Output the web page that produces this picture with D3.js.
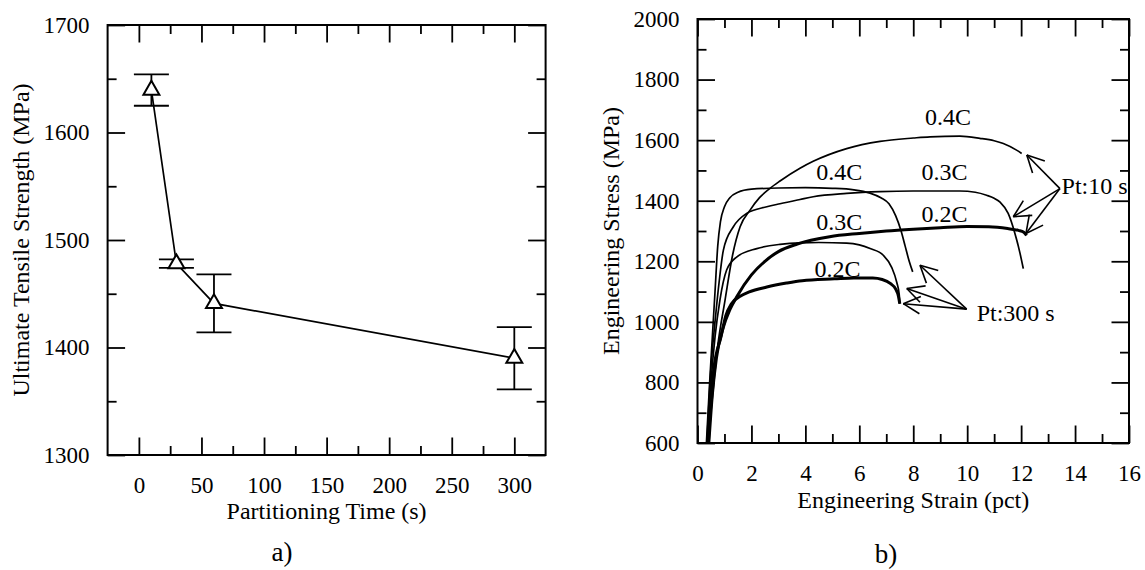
<!DOCTYPE html>
<html><head><meta charset="utf-8">
<script src="https://cdn.jsdelivr.net/npm/d3@7/dist/d3.min.js"></script>
<style>
body{margin:0;background:#fff}
svg{display:block}
text{font-family:"Liberation Serif","Times New Roman",serif;fill:#000}
</style>
</head><body>
<svg id="chart" width="1145" height="570"></svg>
<script>
// ---------- Panel a) data ----------
const partTime = [10, 30, 60, 300];
const utsMean  = [1639.5, 1478, 1441, 1390];
const utsErr   = [14.6, 4, 27, 29];
const xTicksA  = [0, 50, 100, 150, 200, 250, 300];
const xMinorA  = [25, 75, 125, 175, 225, 275];
const yTicksA  = [1300, 1400, 1500, 1600, 1700];
const yMinorA  = [1350, 1450, 1550, 1650];

// ---------- Panel b) data (strain pct, stress MPa) ----------
const c04_10s = [[0.38,600],[0.55,750],[0.75,920],[1.02,1071],[1.3,1220],[1.58,1314],[1.95,1369],[2.3,1410],[2.69,1441],[3.06,1465],[3.8,1507],[4.29,1530],[5.53,1572],[6.77,1596],[8.0,1607],[8.62,1611],[9.73,1613],[10.47,1606],[11.0,1598],[11.34,1589],[11.83,1567],[12.02,1556]];
const c03_10s = [[0.35,600],[0.5,850],[0.65,1000],[0.8,1130],[0.96,1237],[1.33,1314],[1.82,1358],[2.57,1380],[3.06,1390],[3.8,1404],[4.29,1413],[5.53,1424],[6.77,1430],[8.0,1432],[9.73,1432],[10.3,1428],[10.72,1418],[11.0,1408],[11.22,1395],[11.52,1358],[11.77,1292],[11.96,1226],[12.08,1176]];
const c02_10s = [[0.42,600],[0.55,760],[0.7,880],[0.96,983],[1.2,1040],[1.45,1082],[2.0,1155],[2.5,1200],[3.0,1232],[3.7,1257],[4.9,1281],[6.0,1292],[7.0,1300],[8.0,1306],[9.0,1311],[10.0,1315],[10.8,1314],[11.5,1308],[11.9,1302],[12.1,1296],[12.2,1285]];
const c04_300s = [[0.33,600],[0.45,800],[0.55,950],[0.65,1100],[0.75,1250],[0.85,1330],[1.0,1380],[1.2,1410],[1.5,1428],[2.0,1438],[3.0,1442],[4.0,1443],[5.0,1441],[5.8,1436],[6.4,1425],[6.8,1410],[7.1,1390],[7.35,1350],[7.55,1300],[7.7,1250],[7.85,1200],[7.98,1165]];
const c03_300s = [[0.36,600],[0.5,800],[0.65,950],[0.83,1071],[1.08,1171],[1.45,1214],[2.2,1242],[3.06,1256],[3.8,1261],[4.5,1262],[5.53,1260],[6.0,1254],[6.4,1242],[6.89,1220],[7.2,1180],[7.39,1130],[7.48,1090],[7.5,1060]];
const c02_300s = [[0.4,600],[0.47,708],[0.6,840],[0.87,950],[1.05,1020],[1.26,1060],[1.6,1085],[1.92,1099],[2.57,1115],[3.3,1128],[3.88,1136],[5.08,1142],[5.8,1145],[6.5,1145],[6.85,1140],[7.16,1126],[7.35,1108],[7.45,1085],[7.5,1060]];
const xTicksB = [0, 2, 4, 6, 8, 10, 12, 14, 16];
const xMinorB = [1, 3, 5, 7, 9, 11, 13, 15];
const yTicksB = [600, 800, 1000, 1200, 1400, 1600, 1800, 2000];
const yMinorB = [700, 900, 1100, 1300, 1500, 1700, 1900];

// curve labels: [text, strain (center), stress (baseline)]
const curveLabels = [["0.4C",9.29,1650],["0.4C",5.26,1468],["0.3C",9.16,1468],["0.3C",5.26,1302],["0.2C",9.16,1330],["0.2C",5.19,1148]];
// annotations: text, text left strain, baseline stress, apex, tips
const noteText   = ["Pt:10 s", "Pt:300 s"];
const noteAt     = [[13.5,1421], [10.35,1002]];
const noteApex   = [[13.44,1440], [9.98,1042]];
const noteTips   = [[[12.21,1551],[11.71,1347],[12.18,1292]], [[8.25,1187],[7.76,1110],[7.63,1060]]];

const svg = d3.select("#chart");
const TICK_MAJ = 17.5, TICK_MIN = 9;

function frame(g, x, y, xt, xm, yt, ym){
  const w = x.range()[1]-x.range()[0], h = y.range()[0]-y.range()[1];
  const noDomain = s=>s.select(".domain").remove();
  g.append("g").attr("transform",`translate(0,${y.range()[0]})`)
    .call(d3.axisBottom(x).tickValues(xt).tickSize(-TICK_MAJ).tickPadding(22).tickFormat(d3.format("d"))).call(noDomain);
  g.append("g").attr("transform",`translate(0,${y.range()[0]})`)
    .call(d3.axisBottom(x).tickValues(xm).tickSize(-TICK_MIN).tickFormat("")).call(noDomain);
  g.append("g").attr("transform",`translate(0,${y.range()[1]})`)
    .call(d3.axisTop(x).tickValues(xt).tickSize(-TICK_MAJ).tickFormat("")).call(noDomain);
  g.append("g").attr("transform",`translate(0,${y.range()[1]})`)
    .call(d3.axisTop(x).tickValues(xm).tickSize(-TICK_MIN).tickFormat("")).call(noDomain);
  g.append("g").attr("transform",`translate(${x.range()[0]},0)`)
    .call(d3.axisLeft(y).tickValues(yt).tickSize(-TICK_MAJ).tickPadding(18).tickFormat(d3.format("d"))).call(noDomain);
  g.append("g").attr("transform",`translate(${x.range()[0]},0)`)
    .call(d3.axisLeft(y).tickValues(ym).tickSize(-TICK_MIN).tickFormat("")).call(noDomain);
  g.append("g").attr("transform",`translate(${x.range()[1]},0)`)
    .call(d3.axisRight(y).tickValues(yt).tickSize(-TICK_MAJ).tickFormat("")).call(noDomain);
  g.append("g").attr("transform",`translate(${x.range()[1]},0)`)
    .call(d3.axisRight(y).tickValues(ym).tickSize(-TICK_MIN).tickFormat("")).call(noDomain);
  g.selectAll(".tick line").attr("stroke","#000").attr("stroke-width",1.8);
  g.selectAll(".tick text").filter(function(){return this.textContent==="";}).remove();
  g.selectAll(".tick text").attr("font-size",23).attr("fill","#000");
  g.append("rect").attr("x",x.range()[0]).attr("y",y.range()[1]).attr("width",w).attr("height",h)
    .attr("fill","none").attr("stroke","#000").attr("stroke-width",2);
}

// ---------- Panel a ----------
const xA = d3.scaleLinear().domain([-25,325]).range([107.6,545.6]);
const yA = d3.scaleLinear().domain([1300,1700]).range([455,25]);
const gA = svg.append("g");
frame(gA, xA, yA, xTicksA, xMinorA, yTicksA, yMinorA);

const ptsA = partTime.map((t,i)=>({t, m:utsMean[i], e:utsErr[i]}));
gA.append("path").datum(ptsA)
  .attr("d", d3.line().x(d=>xA(d.t)).y(d=>yA(d.m)))
  .attr("fill","none").attr("stroke","#000").attr("stroke-width",1.7);
const eb = gA.append("g").attr("stroke","#000").attr("stroke-width",1.8);
ptsA.forEach(d=>{
  eb.append("line").attr("x1",xA(d.t)).attr("x2",xA(d.t)).attr("y1",yA(d.m+d.e)).attr("y2",yA(d.m-d.e));
  [d.m+d.e, d.m-d.e].forEach(v=>eb.append("line").attr("x1",xA(d.t)-17.5).attr("x2",xA(d.t)+17.5).attr("y1",yA(v)).attr("y2",yA(v)));
});
gA.selectAll("path.mk").data(ptsA).join("path").attr("class","mk")
  .attr("transform",d=>`translate(${xA(d.t)},${yA(d.m)})`)
  .attr("d", d3.symbol(d3.symbolTriangle, 110)())
  .attr("fill","#fff").attr("stroke","#000").attr("stroke-width",2);

gA.append("text").attr("x",(xA.range()[0]+xA.range()[1])/2).attr("y",519).attr("text-anchor","middle")
  .attr("font-size",24).text("Partitioning Time (s)");
gA.append("text").attr("transform",`translate(29,${(yA.range()[0]+yA.range()[1])/2}) rotate(-90)`)
  .attr("text-anchor","middle").attr("font-size",24).text("Ultimate Tensile Strength (MPa)");
gA.append("text").attr("x",282).attr("y",561).attr("text-anchor","middle").attr("font-size",27).text("a)");

// ---------- Panel b ----------
const xB = d3.scaleLinear().domain([0,16]).range([697.5,1129]);
const yB = d3.scaleLinear().domain([600,2000]).range([443,19]);
const gB = svg.append("g");
frame(gB, xB, yB, xTicksB, xMinorB, yTicksB, yMinorB);

const lineB = d3.line().x(d=>xB(d[0])).y(d=>yB(d[1])).curve(d3.curveMonotoneX);
const curvesB = [[c04_10s,1.7],[c03_10s,1.7],[c04_300s,1.7],[c03_300s,1.7],[c02_10s,3],[c02_300s,3]];
gB.selectAll("path.cv").data(curvesB).join("path").attr("class","cv")
  .attr("d",d=>lineB(d[0])).attr("fill","none").attr("stroke","#000").attr("stroke-width",d=>d[1]);

gB.selectAll("text.cl").data(curveLabels).join("text").attr("class","cl")
  .attr("x",d=>xB(d[1])).attr("y",d=>yB(d[2])).attr("text-anchor","middle").attr("font-size",24).text(d=>d[0]);

noteText.forEach((t,i)=>{
  gB.append("text").attr("x",xB(noteAt[i][0])).attr("y",yB(noteAt[i][1])).attr("font-size",24).text(t);
  const ax = xB(noteApex[i][0]), ay = yB(noteApex[i][1]);
  noteTips[i].forEach(tp=>{
    const tx = xB(tp[0]), ty = yB(tp[1]);
    gB.append("line").attr("x1",ax).attr("y1",ay).attr("x2",tx).attr("y2",ty).attr("stroke","#000").attr("stroke-width",1.6);
    const ang = Math.atan2(ay-ty, ax-tx), L = 19, da = 27*Math.PI/180;
    [ang-da, ang+da].forEach(a=>{
      gB.append("line").attr("x1",tx).attr("y1",ty).attr("x2",tx+L*Math.cos(a)).attr("y2",ty+L*Math.sin(a))
        .attr("stroke","#000").attr("stroke-width",1.6);
    });
  });
});

gB.append("text").attr("x",(xB.range()[0]+xB.range()[1])/2).attr("y",508).attr("text-anchor","middle")
  .attr("font-size",24).text("Engineering Strain (pct)");
gB.append("text").attr("transform",`translate(618.5,${(yB.range()[0]+yB.range()[1])/2}) rotate(-90)`)
  .attr("text-anchor","middle").attr("font-size",24).text("Engineering Stress (MPa)");
gB.append("text").attr("x",886).attr("y",563).attr("text-anchor","middle").attr("font-size",27).text("b)");
</script>
</body></html>
